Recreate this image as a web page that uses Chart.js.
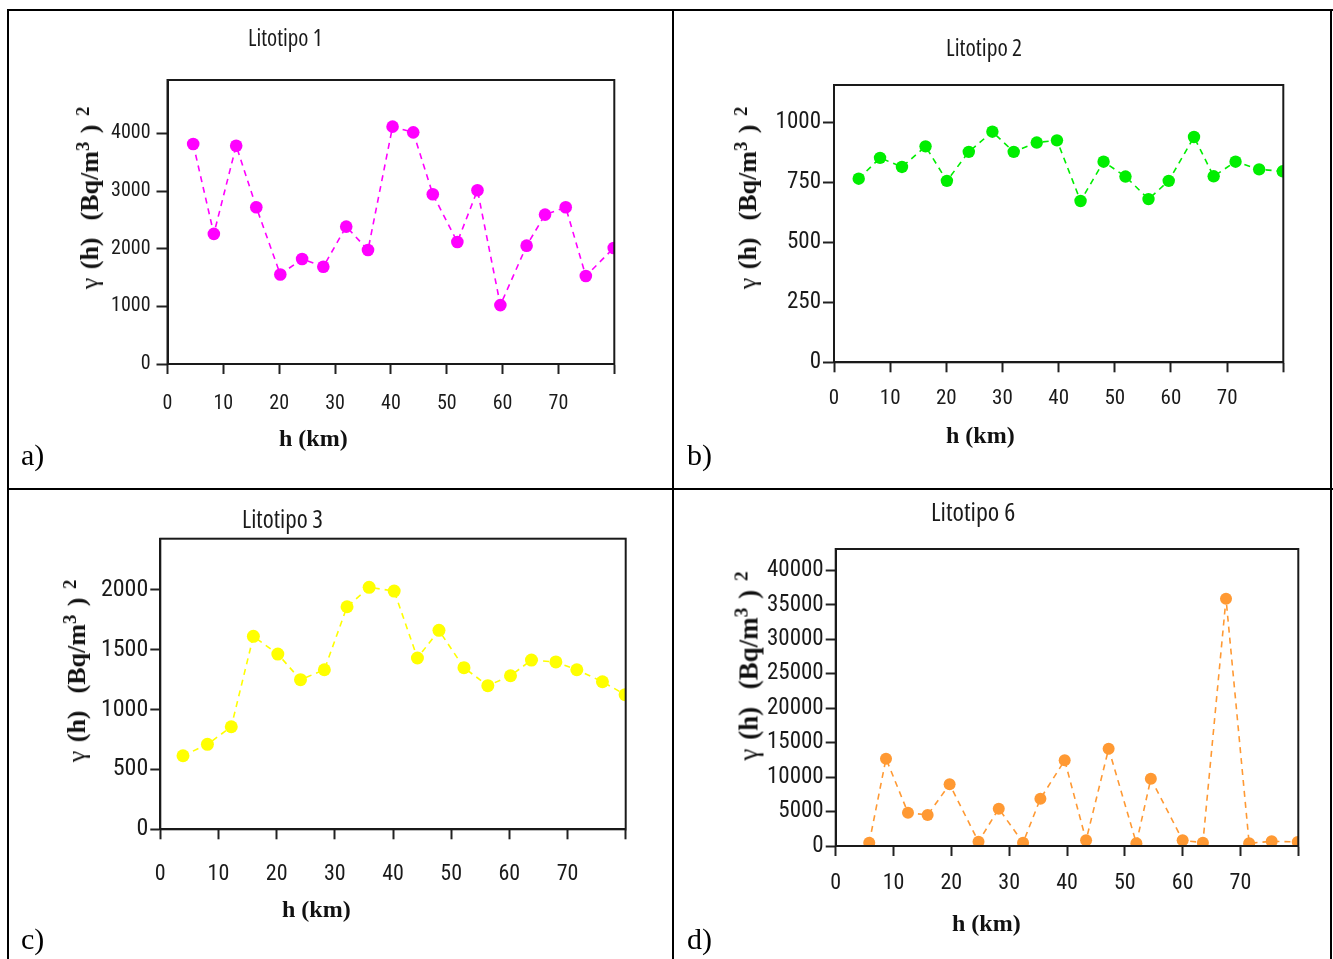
<!DOCTYPE html>
<html>
<head>
<meta charset="utf-8">
<script src="https://cdn.jsdelivr.net/npm/chart.js@4.4.1/dist/chart.umd.min.js"></script>
<style>
html,body{margin:0;padding:0;background:#fff;}
#page{position:relative;width:1333px;height:959px;overflow:hidden;background:#fff;}
canvas{position:absolute;}
.rule{position:absolute;background:#000;}
.ttl{position:absolute;font-family:'Open Sans',sans-serif;font-stretch:condensed;font-size:23px;line-height:1;color:#1a1a1a;white-space:nowrap;}
.xt{position:absolute;font-family:'Liberation Serif','Times New Roman',serif;font-weight:bold;font-size:24px;line-height:1;white-space:nowrap;color:#111;}
.yt{position:absolute;font-family:'Liberation Serif','Times New Roman',serif;font-weight:bold;font-size:26px;line-height:1;white-space:nowrap;color:#111;word-spacing:2px;transform:translate(-50%,-50%) rotate(-90deg);}
.yt sup{font-size:0.72em;vertical-align:0.5em;line-height:0;}
.yt .g{font-weight:normal;}
.lt{position:absolute;font-family:'Liberation Serif','Times New Roman',serif;font-size:30px;line-height:1;color:#000;}
</style>
</head>
<body>
<div id="page">
  <div class="rule" style="left:7px;top:9px;width:1326px;height:2px"></div>
  <div class="rule" style="left:7px;top:9px;width:2px;height:950px"></div>
  <div class="rule" style="left:672px;top:9px;width:2px;height:950px"></div>
  <div class="rule" style="left:1330px;top:9px;width:2px;height:950px"></div>
  <div class="rule" style="left:7px;top:488px;width:1326px;height:2px"></div>

  <canvas id="cA" width="663" height="477" style="left:9px;top:11px;width:663px;height:477px"></canvas>
  <canvas id="cB" width="656" height="477" style="left:674px;top:11px;width:656px;height:477px"></canvas>
  <canvas id="cC" width="663" height="469" style="left:9px;top:490px;width:663px;height:469px"></canvas>
  <canvas id="cD" width="656" height="469" style="left:674px;top:490px;width:656px;height:469px"></canvas>

  <div class="ttl" style="left:248px;top:26px">Litotipo 1</div>
  <div class="ttl" style="left:946px;top:36px;font-size:23.5px">Litotipo 2</div>
  <div class="ttl" style="left:242px;top:506px;font-size:25px">Litotipo 3</div>
  <div class="ttl" style="left:931px;top:498px;font-size:26px">Litotipo 6</div>

  <div class="xt" style="left:279px;top:426px">h (km)</div>
  <div class="xt" style="left:946px;top:423px">h (km)</div>
  <div class="xt" style="left:282px;top:897px">h (km)</div>
  <div class="xt" style="left:952px;top:911px">h (km)</div>

  <div class="yt" style="left:90px;top:198px"><span class="g">γ</span> (h)&nbsp; (Bq/m<sup>3</sup> ) <sup>2</sup></div>
  <div class="yt" style="left:748px;top:198px"><span class="g">γ</span> (h)&nbsp; (Bq/m<sup>3</sup> ) <sup>2</sup></div>
  <div class="yt" style="left:77px;top:671px"><span class="g">γ</span> (h)&nbsp; (Bq/m<sup>3</sup> ) <sup>2</sup></div>
  <div class="yt" style="left:749px;top:666px;font-size:27px"><span class="g">γ</span> (h)&nbsp; (Bq/m<sup>3</sup> ) <sup>2</sup></div>

  <div class="lt" style="left:21px;top:440px">a)</div>
  <div class="lt" style="left:687px;top:440px">b)</div>
  <div class="lt" style="left:21px;top:924px">c)</div>
  <div class="lt" style="left:687px;top:924px">d)</div>
</div>
<script>
// ---- data ----
const lagsA = [4.6, 8.3, 12.3, 15.9, 20.2, 24.1, 27.9, 32.0, 35.9, 40.3, 44.0, 47.5, 51.9, 55.5, 59.6, 64.3, 67.6, 71.3, 74.9, 79.9];
const gammaA = [3814, 2256, 3786, 2718, 1553, 1821, 1687, 2383, 1977, 4116, 4017, 2944, 2116, 3014, 1021, 2052, 2591, 2718, 1525, 2012];

const lagsB = [4.4, 8.2, 12.1, 16.3, 20.1, 24.0, 28.2, 32.0, 36.1, 39.7, 43.9, 48.0, 51.9, 56.0, 59.6, 64.1, 67.6, 71.5, 75.7, 79.9];
const gammaB = [766, 853, 815, 901, 757, 878, 962, 878, 917, 926, 673, 837, 775, 681, 757, 940, 776, 837, 805, 797];

const lagsC = [3.9, 8.1, 12.2, 16.0, 20.2, 24.1, 28.2, 32.1, 35.9, 40.2, 44.2, 47.9, 52.2, 56.3, 60.2, 63.8, 68.0, 71.6, 76.0, 79.9];
const gammaC = [614, 709, 856, 1611, 1463, 1249, 1332, 1858, 2020, 1989, 1430, 1661, 1349, 1199, 1282, 1413, 1397, 1332, 1232, 1124];

const lagsD = [5.8, 8.7, 12.5, 15.9, 19.7, 24.7, 28.2, 32.4, 35.4, 39.6, 43.3, 47.2, 52.0, 54.5, 60.0, 63.5, 67.5, 71.5, 75.4, 79.9];
const gammaD = [480, 12670, 4830, 4500, 8950, 620, 5420, 480, 6860, 12430, 830, 14120, 390, 9770, 830, 480, 35880, 390, 680, 580];

// tick values / labels
const xTickValues = [0, 10, 20, 30, 40, 50, 60, 70, 80];
const xTickLabels = ['0', '10', '20', '30', '40', '50', '60', '70', ''];
const yTicksA = [0, 1000, 2000, 3000, 4000];
const yTicksB = [0, 250, 500, 750, 1000];
const yTicksC = [0, 500, 1000, 1500, 2000];
const yTicksD = [0, 5000, 10000, 15000, 20000, 25000, 30000, 35000, 40000];

// axis ranges
const xMin = 0, xMax = 80;
const yMaxA = 4925, yMaxB = 1157, yMaxC = 2426, yMaxD = 43090;

// ---- styling / layout ----
const TICKFONT = "'Roboto Condensed','DejaVu Sans Condensed',sans-serif";

const framePlugin = {
  id: 'frame',
  afterDatasetsDraw(chart) {
    const {ctx, chartArea: a} = chart;
    ctx.save();
    ctx.strokeStyle = '#1a1a1a';
    ctx.lineWidth = 2;
    ctx.strokeRect(a.left, a.top, a.right - a.left, a.bottom - a.top);
    ctx.restore();
  }
};

function panel(id, lags, vals, yMax, yTicks, st) {
  const pts = lags.map((x, i) => ({x: x, y: vals[i]}));
  return new Chart(document.getElementById(id), {
    type: 'scatter',
    data: {datasets: [{
      data: pts,
      showLine: true,
      borderColor: st.color,
      borderWidth: 1.6,
      borderDash: [6, 5],
      pointRadius: st.r,
      pointBackgroundColor: st.color,
      pointBorderWidth: 0,
      pointHoverRadius: st.r
    }]},
    options: {
      responsive: false,
      animation: false,
      events: [],
      layout: {padding: {top: st.padTop, right: st.padRight, left: 0, bottom: 0}},
      plugins: {legend: {display: false}, tooltip: {enabled: false}, title: {display: false}},
      scales: {
        x: {
          type: 'linear', min: xMin, max: xMax,
          grid: {drawOnChartArea: false, drawTicks: true, tickLength: 10, tickColor: '#222', tickWidth: 2},
          border: {display: true, color: '#1a1a1a', width: 2},
          afterBuildTicks: s => { s.ticks = xTickValues.map(v => ({value: v})); },
          ticks: {maxRotation: 0, autoSkip: false, color: '#1a1a1a',
                  padding: st.xPad, font: {family: TICKFONT, size: st.xFont},
                  callback: (v, i) => xTickLabels[i]},
          afterFit: s => { s.height = st.xH; }
        },
        y: {
          type: 'linear', min: 0, max: yMax,
          grid: {drawOnChartArea: false, drawTicks: true, tickLength: st.yTick, tickColor: '#222', tickWidth: 2},
          border: {display: true, color: '#1a1a1a', width: 2},
          afterBuildTicks: s => { s.ticks = yTicks.map(v => ({value: v})); },
          ticks: {autoSkip: false, color: '#1a1a1a',
                  padding: st.yPad, font: {family: TICKFONT, size: st.yFont},
                  callback: v => String(v)},
          afterFit: s => { s.width = st.yW; }
        }
      }
    },
    plugins: [framePlugin]
  });
}

panel('cA', lagsA, gammaA, yMaxA, yTicksA, {color: '#ff00ff', r: 6.3,
  yW: 158.5, padTop: 69, padRight: 57.7, xH: 124, xPad: 18, xFont: 20, yPad: 6, yTick: 11, yFont: 20});
panel('cB', lagsB, gammaB, yMaxB, yTicksB, {color: '#00ee00', r: 6.2,
  yW: 160, padTop: 74, padRight: 46.7, xH: 125.7, xPad: 14, xFont: 21, yPad: 2, yTick: 11, yFont: 23});
panel('cC', lagsC, gammaC, yMaxC, yTicksC, {color: '#ffff00', r: 6.5,
  yW: 151.3, padTop: 48.7, padRight: 46.3, xH: 129.7, xPad: 22, xFont: 22, yPad: 2, yTick: 10, yFont: 24});
panel('cD', lagsD, gammaD, yMaxD, yTicksD, {color: '#ff9933', r: 6,
  yW: 161.7, padTop: 59, padRight: 31.7, xH: 113, xPad: 14, xFont: 22, yPad: 2, yTick: 10, yFont: 23});
</script>
</body>
</html>
